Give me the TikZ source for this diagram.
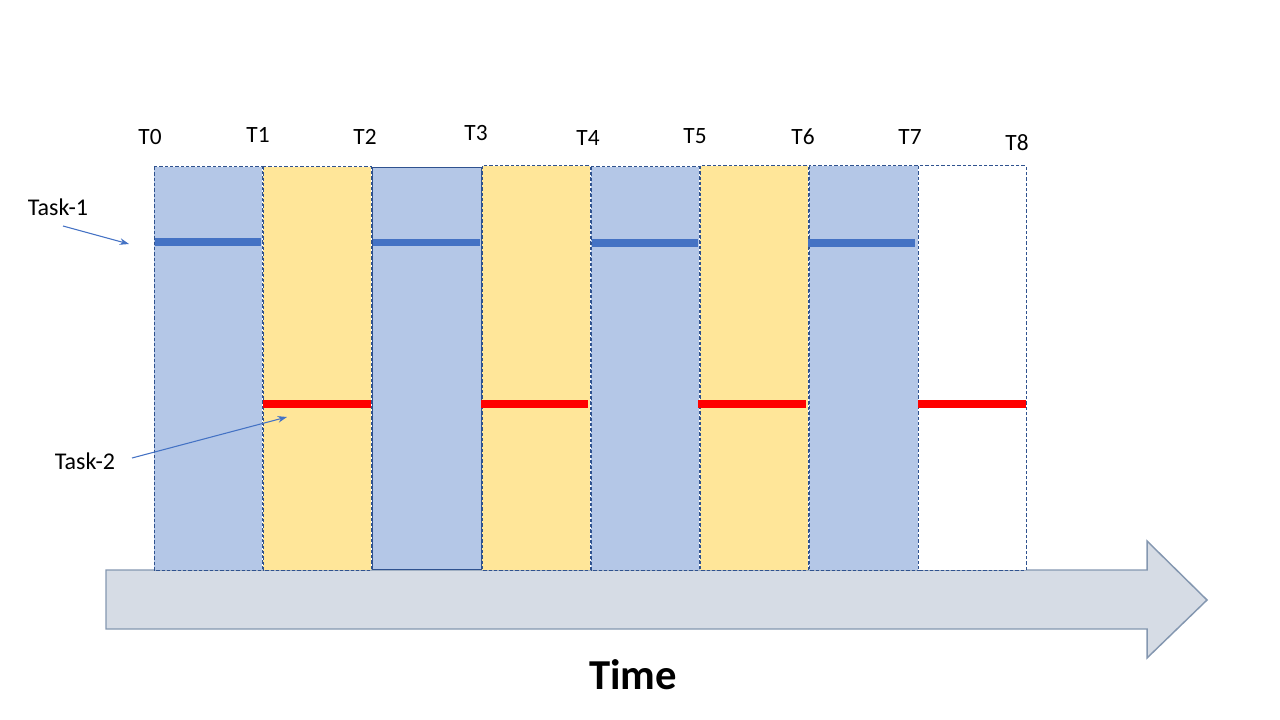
\documentclass[tikz,border=0pt]{standalone}
\usepackage{fontspec}
\setmainfont{Carlito}
\usetikzlibrary{arrows.meta}
\definecolor{bluefill}{HTML}{B4C7E7}
\definecolor{yellowfill}{HTML}{FFE699}
\definecolor{edgeblue}{HTML}{2F528F}
\definecolor{barblue}{HTML}{4472C4}
\definecolor{barred}{HTML}{FF0000}
\definecolor{arrowfill}{HTML}{D6DCE5}
\definecolor{arrowedge}{HTML}{8497B0}
\tikzset{
  slotdash/.style={draw=edgeblue, line width=0.75pt, dash pattern=on 2.5pt off 1.5pt},
  slotsolid/.style={draw=edgeblue, line width=0.6pt},
  bluebar/.style={draw=barblue, line width=5.4pt},
  redbar/.style={draw=barred, line width=5.4pt},
  tlabel/.style={font=\fontsize{17.5}{20}\selectfont, inner sep=0pt},
  tasklabel/.style={font=\fontsize{18}{21}\selectfont, inner sep=0pt},
  pointer/.style={draw=barblue, line width=0.8pt, -{Stealth[length=7pt,width=5pt]}},
}
\begin{document}
\begin{tikzpicture}[x=0.75pt,y=-0.75pt]
\useasboundingbox (0,0) rectangle (1280,720);
% time arrow
\filldraw[fill=arrowfill, draw=arrowedge, line width=1.1pt, line join=miter]
  (106,570) -- (1147,570) -- (1147,541) -- (1207,600) -- (1147,658) -- (1147,629) -- (106,629) -- cycle;
% columns
\fill[bluefill] (154,167) rectangle (262,570);
\draw[slotdash] (154,167) rectangle (262,570);
\fill[yellowfill] (263,167) rectangle (371,570);
\draw[slotdash] (263,167) rectangle (371,570);
\fill[bluefill] (372,167) rectangle (481,569);
\draw[slotsolid] (372,167) rectangle (481,569);
\fill[yellowfill] (482,166) rectangle (590,570);
\draw[slotdash] (482,166) rectangle (590,570);
\fill[bluefill] (591,167) rectangle (699,570);
\draw[slotdash] (591,167) rectangle (699,570);
\fill[yellowfill] (700,166) rectangle (808,570);
\draw[slotdash] (700,166) rectangle (808,570);
\fill[bluefill] (809,166) rectangle (918,570);
\draw[slotdash] (809,166) rectangle (918,570);
\fill[white] (918,166) rectangle (1026,570);
\draw[slotdash] (918,166) rectangle (1026,570);
% task bars
\draw[bluebar] (155,242) -- (261,242);
\draw[bluebar] (373,242.5) -- (480,242.5);
\draw[bluebar] (592,243) -- (698,243);
\draw[bluebar] (808,243) -- (915,243);
\draw[redbar] (263,404) -- (371,404);
\draw[redbar] (481,404) -- (588,404);
\draw[redbar] (698,404) -- (806,404);
\draw[redbar] (918,404) -- (1026,404);
% time labels
\node[tlabel] (t0) at (150,137) {T0};
\node[tlabel] (t1) at (258,135) {T1};
\node[tlabel] (t2) at (365,137) {T2};
\node[tlabel] (t3) at (476,133) {T3};
\node[tlabel] (t4) at (588,138) {T4};
\node[tlabel] (t5) at (695,136) {T5};
\node[tlabel] (t6) at (803,137) {T6};
\node[tlabel] (t7) at (910,137) {T7};
\node[tlabel] (t8) at (1017,143) {T8};
% task labels and pointers
\node[tasklabel] (task1) at (58,207) {Task-1};
\node[tasklabel] (task2) at (85,461) {Task-2};
\coordinate (p1s) at (63,226);
\coordinate (p1e) at (129,244);
\coordinate (p2s) at (132,458);
\coordinate (p2e) at (287,417);
\draw[pointer] (p1s) -- (p1e);
\draw[pointer] (p2s) -- (p2e);
% time caption
\node[font=\fontsize{32}{38}\selectfont\bfseries, inner sep=0pt] (time) at (633,675) {Time};
\end{tikzpicture}
\end{document}
